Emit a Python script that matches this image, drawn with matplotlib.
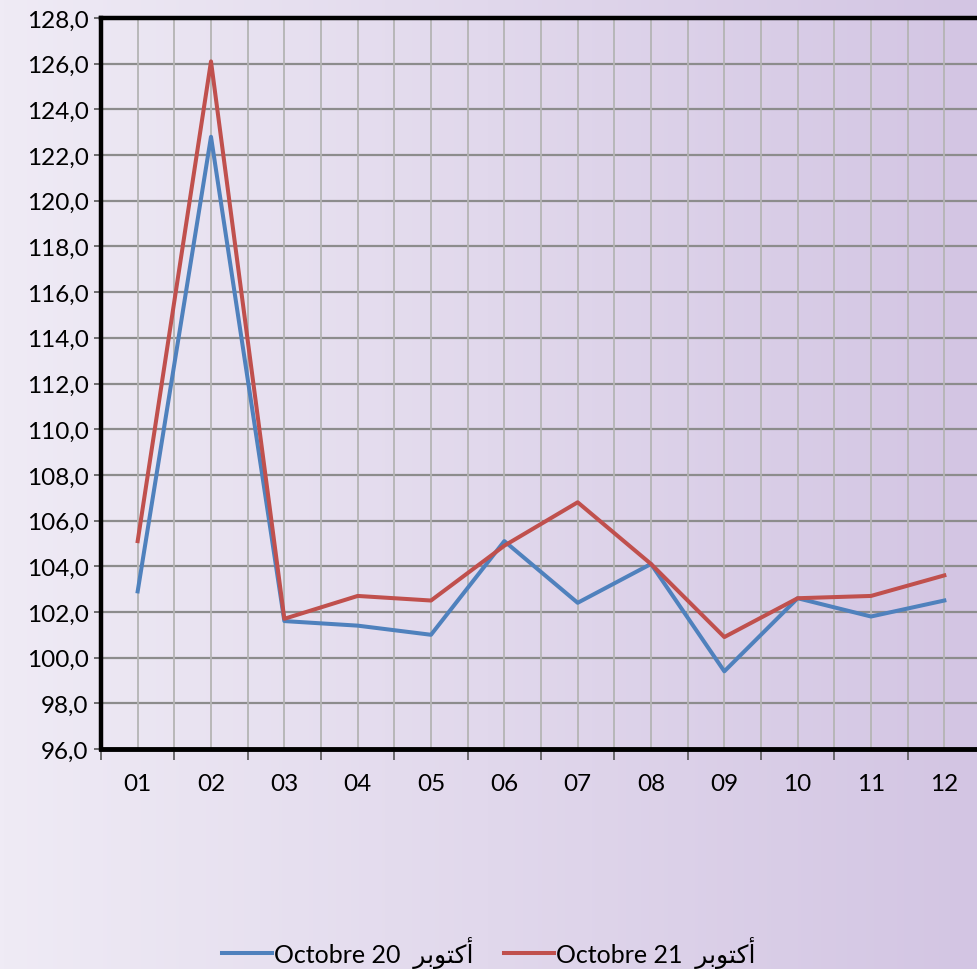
import numpy as np
import matplotlib.pyplot as plt
from matplotlib.ticker import FixedLocator, NullFormatter

# mois et valeurs
months = ['01', '02', '03', '04', '05', '06', '07', '08', '09', '10', '11', '12']
oct20 = [102.9, 122.8, 101.6, 101.4, 101.0, 105.1, 102.4, 104.1, 99.4, 102.6, 101.8, 102.5]
oct21 = [105.1, 126.1, 101.7, 102.7, 102.5, 104.9, 106.8, 104.1, 100.9, 102.6, 102.7, 103.6]

# "أكتوبر" en formes de presentation, ordre visuel (pas de shaping dans matplotlib)
ar_oct = '\uFEAE\uFE91\uFEEE\uFE98\uFEDB\uFE83'
labels = ['Octobre 20  ' + ar_oct, 'Octobre 21  ' + ar_oct]

plt.rcParams['font.family'] = ['Lato', 'DejaVu Sans']

fig = plt.figure(figsize=(9.77, 9.70), dpi=100)

# fond en degrade
bg = fig.add_axes([0, 0, 1, 1], zorder=-1)
c1 = np.array([0xEF, 0xEB, 0xF5]) / 255
c2 = np.array([0xD3, 0xC5, 0xE3]) / 255
t = np.linspace(0, 1, 256)
grad = (c1[None, :] * (1 - t[:, None]) + c2[None, :] * t[:, None])[None, :, :]
bg.imshow(grad, aspect='auto', extent=[0, 1, 0, 1])
bg.axis('off')

ax = fig.add_axes([101 / 977, 220 / 970, 880 / 977, 731 / 970])
ax.patch.set_alpha(0)

x = np.arange(1, len(months) + 1)
ax.plot(x, oct20, color='#4F81BD', lw=2.9, label=labels[0], zorder=3)
ax.plot(x, oct21, color='#C0504D', lw=2.9, label=labels[1], zorder=3)

ax.set_xlim(0.5, 12.5)
ax.set_ylim(96, 128)
yt = np.arange(96, 129, 2)
ax.set_yticks(yt)
ax.set_yticklabels([('%.1f' % v).replace('.', ',') for v in yt])

ax.set_xticks(x)
ax.set_xticklabels(months)
ax.xaxis.set_minor_locator(FixedLocator(np.arange(0.5, 13, 1)))
ax.xaxis.set_minor_formatter(NullFormatter())
ax.tick_params(axis='x', which='major', length=0, pad=17, labelsize=17.5)
ax.tick_params(axis='x', which='minor', length=8, width=1.2, color='#555555')
ax.tick_params(axis='y', length=5, width=1.2, color='#555555', labelsize=17.5, pad=4)

# grille : horizontale a chaque 2, verticale a chaque demi-mois
for v in np.arange(98, 128, 2):
    ax.axhline(v, color='#8C8C8C', lw=1.6, zorder=1)
for v in np.arange(1, 13, 0.5):
    ax.axvline(v, color='#B4B4B4', lw=1.3, zorder=1)

for side in ['top', 'left', 'right']:
    ax.spines[side].set_linewidth(3.2)
    ax.spines[side].set_color('black')
ax.spines['bottom'].set_linewidth(3.5)
ax.spines['bottom'].set_color('black')

fig.legend(loc='center', bbox_to_anchor=(0.5, 17 / 970), ncol=2, frameon=False,
           fontsize=18, handlelength=2.0, handletextpad=0.1, columnspacing=1.2)

fig.savefig('out.png', dpi=100)
